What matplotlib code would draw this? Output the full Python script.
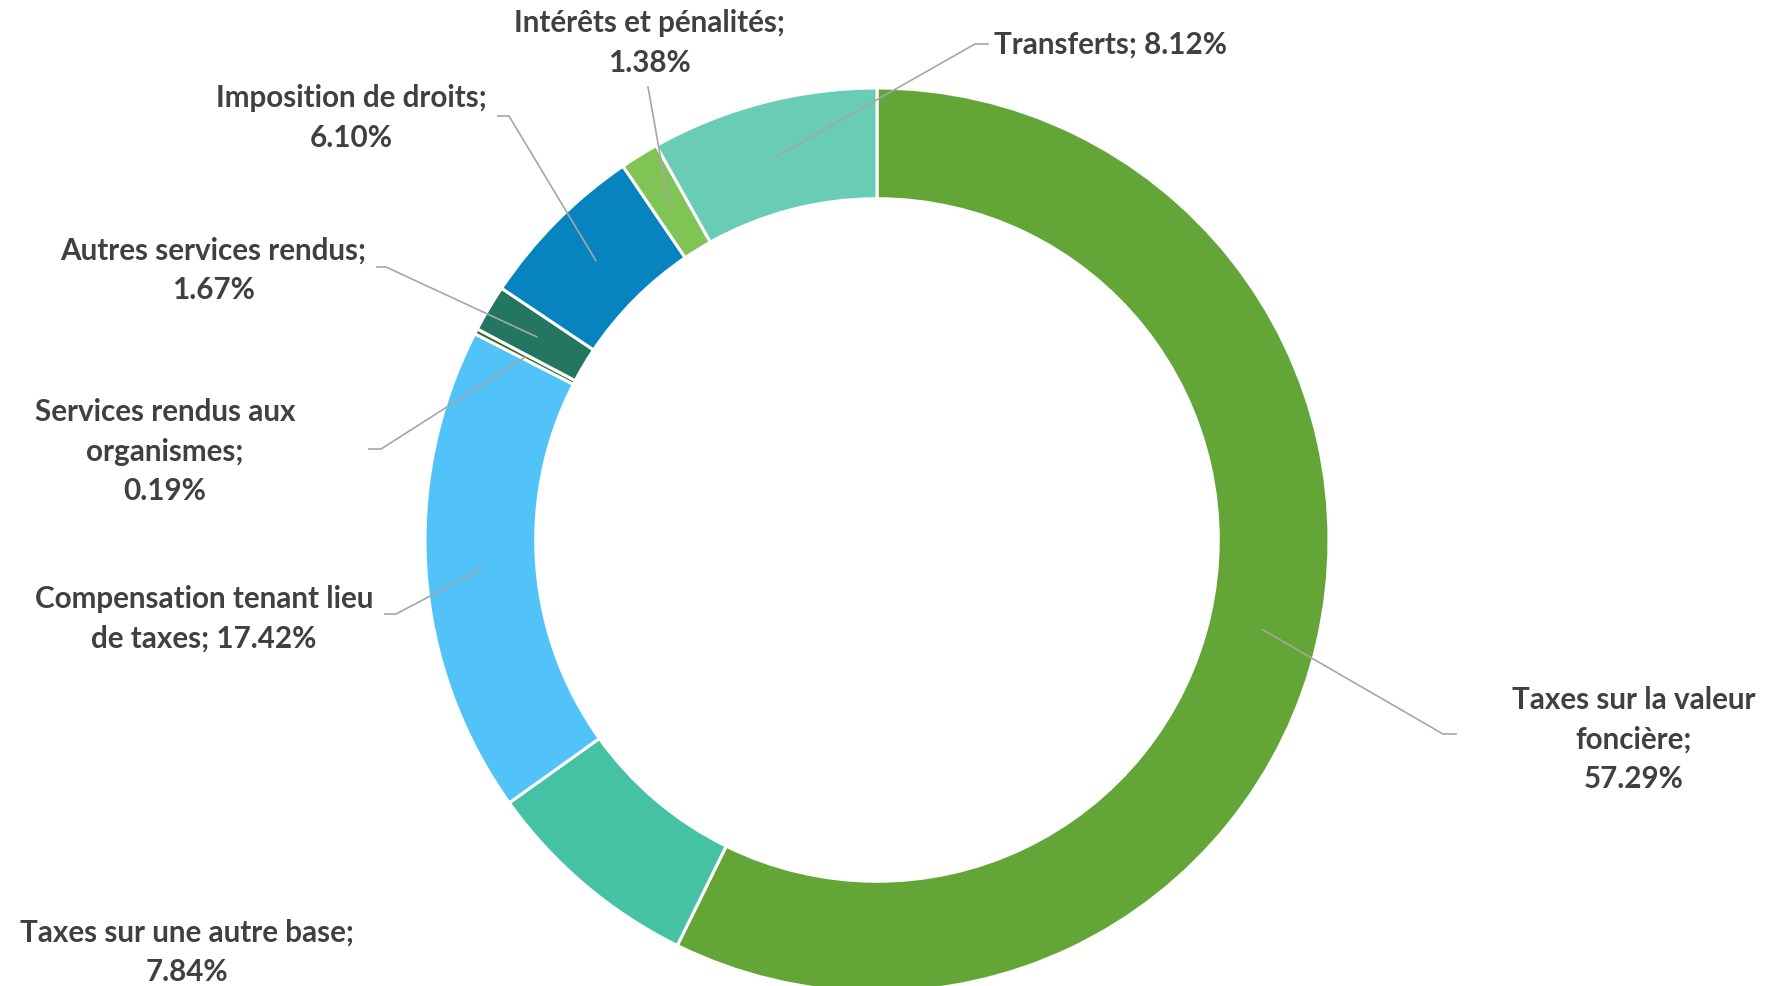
import matplotlib
matplotlib.use("Agg")
import matplotlib.pyplot as plt
import numpy as np

# ---- data ----
categories = [
    "Taxes sur la valeur foncière",
    "Taxes sur une autre base",
    "Compensation tenant lieu de taxes",
    "Services rendus aux organismes",
    "Autres services rendus",
    "Imposition de droits",
    "Intérêts et pénalités",
    "Transferts",
]
values = [57.29, 7.84, 17.42, 0.19, 1.67, 6.10, 1.38, 8.12]
colors = ["#63A537", "#45C1A4", "#52C3F8", "#3D6B1F", "#23765F", "#0784BF", "#80C455", "#69CCB4"]

# ---- label layout (wrapped names, separators) ----
wrapped_names = [
    "Taxes sur la valeur\nfoncière",
    "Taxes sur une autre base",
    "Compensation tenant lieu\nde taxes",
    "Services rendus aux\norganismes",
    "Autres services rendus",
    "Imposition de droits",
    "Intérêts et pénalités",
    "Transferts",
]
separators = ["\n", "\n", " ", "\n", "\n", "\n", "\n", " "]

# label centres (pixels from top-left)
text_pos = [(1634, 740), (187, 952), (204, 619), (165, 452), (213, 270), (351, 118), (649, 43), (1110, 45)]
# leader elbows and ends (pixels); None = no leader
elbows = [(1443, 735), None, (396, 615), (381, 450), (386, 268), (509, 117), (648, 88), (975, 45)]
ends = [(1456, 735), None, (385, 615), (369, 450), (377, 268), (498, 117), (648, 88), (988, 45)]

W, H = 1766, 987
CX, CY, R = 877, 541, 452

plt.rcParams["font.family"] = ["Lato", "DejaVu Sans"]

fig = plt.figure(figsize=(W / 100, H / 100), dpi=100)
ax = fig.add_axes([(CX - R) / W, (H - CY - R) / H, 2 * R / W, 2 * R / H])

wedges, _ = ax.pie(
    values,
    colors=colors,
    startangle=90,
    counterclock=False,
    radius=1.0,
    wedgeprops=dict(width=0.245, edgecolor="white", linewidth=2.2),
)
ax.set_xlim(-1, 1)
ax.set_ylim(-1, 1)
ax.set_aspect("equal")
ax.axis("off")


def px2data(p):
    return ((p[0] - CX) / R, (CY - p[1]) / R)


rmid = 0.877
for i, w in enumerate(wedges):
    label = wrapped_names[i] + ";" + separators[i] + f"{values[i]:.2f}%"
    tx, ty = px2data(text_pos[i])
    ax.text(tx, ty, label, ha="center", va="center", multialignment="center",
            fontsize=21.3, fontweight="bold", color="#404040", linespacing=1.5,
            clip_on=False)
    if elbows[i] is not None:
        ang = np.deg2rad((w.theta1 + w.theta2) / 2)
        wx, wy = rmid * np.cos(ang), rmid * np.sin(ang)
        ex, ey = px2data(elbows[i])
        nx, ny = px2data(ends[i])
        ax.plot([wx, ex, nx], [wy, ey, ny], color="#A6A6A6", lw=1.2,
                solid_joinstyle="miter", clip_on=False, zorder=5)

fig.savefig("out.png", dpi=100, facecolor="white")
